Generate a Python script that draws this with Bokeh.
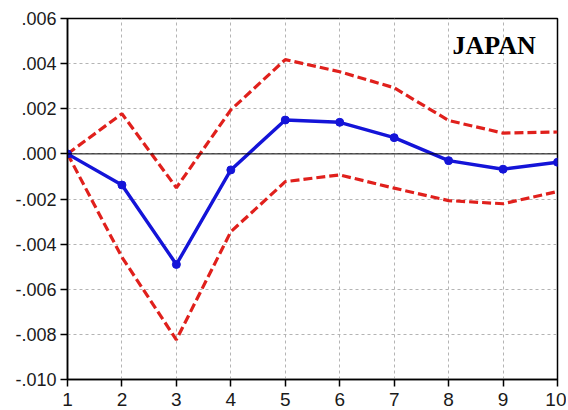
from bokeh.plotting import figure
from bokeh.models import Range1d, FixedTicker, Span, Label, CustomJSTickFormatter
from bokeh.embed import file_html
from bokeh.resources import INLINE

# ---- data ----
periods = [1, 2, 3, 4, 5, 6, 7, 8, 9, 10]
response = [0.0, -0.00138, -0.00490, -0.00071, 0.00150, 0.00140, 0.00072, -0.00030, -0.00068, -0.00037]
upper_band = [0.0, 0.00178, -0.00150, 0.00195, 0.00418, 0.00364, 0.00293, 0.00148, 0.00092, 0.00097]
lower_band = [0.0, -0.00458, -0.00824, -0.00345, -0.00123, -0.00093, -0.00152, -0.00207, -0.00221, -0.00167]
y_ticks = [-0.010, -0.008, -0.006, -0.004, -0.002, 0.0, 0.002, 0.004, 0.006]
x_ticks = periods
title_text = "JAPAN"

p = figure(width=566, height=408, output_backend="svg", toolbar_location=None,
           x_range=Range1d(1, 10), y_range=Range1d(-0.010, 0.006),
           min_border_left=67, min_border_top=18, min_border_right=9, min_border_bottom=29)

p.background_fill_color = "white"
p.border_fill_color = "white"
p.outline_line_color = "black"
p.outline_line_width = 1.5

# grid
p.xaxis.ticker = FixedTicker(ticks=x_ticks)
p.yaxis.ticker = FixedTicker(ticks=y_ticks)
for g in (p.xgrid, p.ygrid):
    g.grid_line_color = "#b4b4b4"
    g.grid_line_dash = "3 3"
    g.grid_line_width = 1

# axes
p.yaxis.formatter = CustomJSTickFormatter(code="return tick.toFixed(3).replace('0.', '.');")
for ax in (p.xaxis, p.yaxis):
    ax.axis_line_color = "black"
    ax.axis_line_width = 1.5
    ax.major_tick_line_color = "black"
    ax.major_tick_line_width = 1.5
    ax.major_tick_in = 0
    ax.major_tick_out = 7
    ax.minor_tick_line_color = None
    ax.major_label_text_font = "Liberation Sans"
    ax.major_label_text_color = "#1a1a1a"
p.yaxis.major_label_text_font_size = "18px"
p.xaxis.major_label_text_font_size = "19px"
p.yaxis.major_label_standoff = 4
p.xaxis.major_label_standoff = 6

# zero line
p.add_layout(Span(location=0, dimension="width", line_color="black", line_width=1))

# confidence bands
p.line(periods, upper_band, line_color="#e0201c", line_width=3.2, line_dash="9 4")
p.line(periods, lower_band, line_color="#e0201c", line_width=3.2, line_dash="9 4")

# response
p.line(periods, response, line_color="#1414d8", line_width=3.4)
p.scatter(periods, response, size=8, color="#1414d8")

# title label inside plot
p.add_layout(Label(x=8.07, y=0.0048, text=title_text, text_font="Liberation Serif",
                   text_font_style="bold", text_font_size="26px", text_color="black",
                   text_baseline="alphabetic"))

open("out.html", "w").write(file_html(p, INLINE))
